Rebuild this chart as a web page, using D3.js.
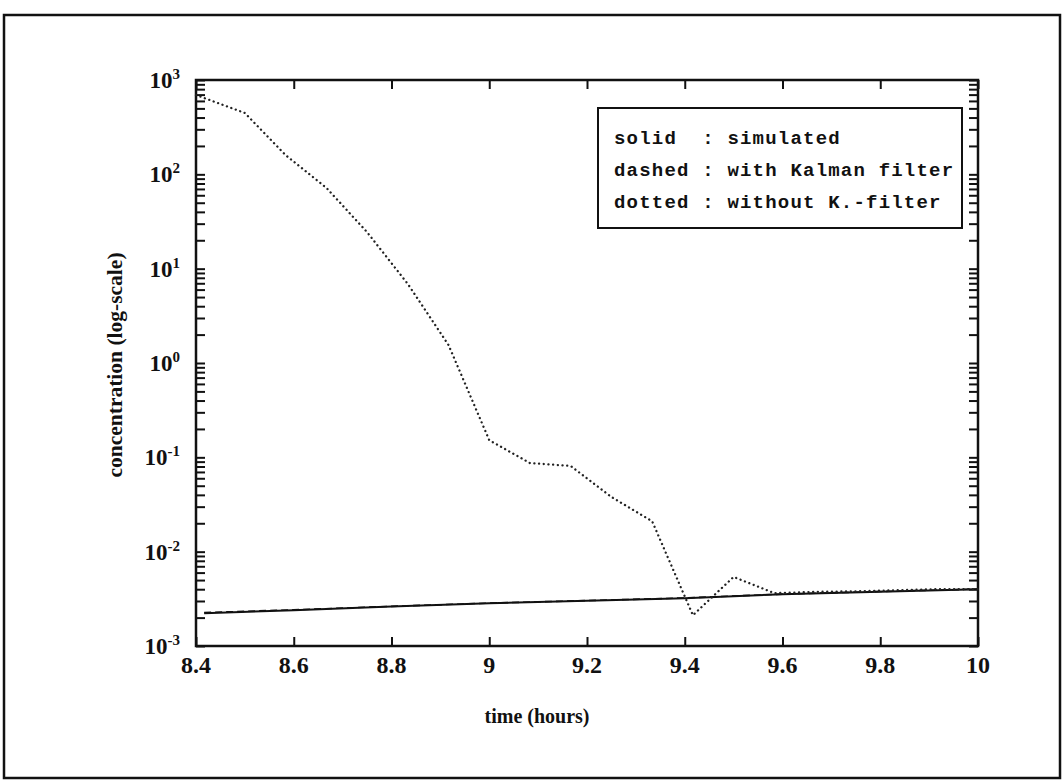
<!DOCTYPE html>
<html>
<head>
<meta charset="utf-8">
<script src="https://cdn.jsdelivr.net/npm/d3@7"></script>
<style>
  body { margin: 0; background: #fff; }
  text { fill: #111; }
</style>
</head>
<body>
<svg id="chart" width="1063" height="783"></svg>
<script>
// simulated concentration (solid)
const simTime = [8.4167, 8.6, 8.8, 9.0, 9.2, 9.4, 9.6, 9.8, 10.0];
const simValue = [0.00223, 0.00240, 0.00262, 0.00284, 0.00302, 0.00321, 0.00354, 0.00377, 0.00400];

// with Kalman filter (dashed) - lies on top of the simulated curve
const kalTime = [8.4167, 8.6, 8.8, 9.0, 9.2, 9.4, 9.6, 9.8, 10.0];
const kalValue = [0.00226, 0.00242, 0.00263, 0.00285, 0.00303, 0.00323, 0.00355, 0.00378, 0.00401];

// without K.-filter (dotted)
const noKalTime = [8.4, 8.5, 8.5833, 8.6667, 8.75, 8.8333, 8.9167, 9.0, 9.0833, 9.1667,
                   9.25, 9.3333, 9.4167, 9.5, 9.5833, 9.6667, 9.75, 9.8333, 9.9167, 10.0];
const noKalValue = [693, 447, 160, 72, 24.4, 6.9, 1.55, 0.152, 0.087, 0.081,
                    0.038, 0.021, 0.00212, 0.0054, 0.00363, 0.00375, 0.0038, 0.0039, 0.0040, 0.0040];

const xTicks = [8.4, 8.6, 8.8, 9.0, 9.2, 9.4, 9.6, 9.8, 10.0];
const xTickLabels = ["8.4", "8.6", "8.8", "9", "9.2", "9.4", "9.6", "9.8", "10"];
const yExponents = [-3, -2, -1, 0, 1, 2, 3];

const legendLines = [
  "solid  : simulated",
  "dashed : with Kalman filter",
  "dotted : without K.-filter"
];

const svg = d3.select("#chart");
const W = 1063, H = 783;
const plot = { left: 196, right: 978, top: 80, bottom: 646 };

// outer frame
svg.append("rect")
  .attr("x", 4).attr("y", 15)
  .attr("width", W - 7).attr("height", H - 20)
  .attr("fill", "none").attr("stroke", "#111").attr("stroke-width", 2.5);

const x = d3.scaleLinear().domain([8.4, 10]).range([plot.left, plot.right]);
const y = d3.scaleLog().domain([1e-3, 1e3]).range([plot.bottom, plot.top]);

const tickLen = 9;
const serif = "'Liberation Serif', 'DejaVu Serif', serif";

// y ticks: major + minor on both sides, pointing inward
const yTickVals = [];
yExponents.forEach(e => {
  for (let m = 1; m <= 9; m++) {
    const v = m * Math.pow(10, e);
    if (v <= 1e3 + 1e-9) yTickVals.push(v);
  }
});

const leftAxis = d3.axisRight(y).tickValues(yTickVals).tickSize(tickLen).tickFormat("");
const rightAxis = d3.axisLeft(y).tickValues(yTickVals).tickSize(tickLen).tickFormat("");
const bottomAxis = d3.axisTop(x).tickValues(xTicks).tickSize(tickLen).tickFormat("");
const topAxis = d3.axisBottom(x).tickValues(xTicks).tickSize(tickLen).tickFormat("");

function styleAxis(g) {
  g.select(".domain").remove();
  g.selectAll(".tick line").attr("stroke", "#111").attr("stroke-width", 2);
}

svg.append("g").attr("transform", `translate(${plot.left},0)`).call(leftAxis).call(styleAxis);
svg.append("g").attr("transform", `translate(${plot.right},0)`).call(rightAxis).call(styleAxis);
svg.append("g").attr("transform", `translate(0,${plot.bottom})`).call(bottomAxis).call(styleAxis);
svg.append("g").attr("transform", `translate(0,${plot.top})`).call(topAxis).call(styleAxis);

// plot frame
svg.append("rect")
  .attr("x", plot.left).attr("y", plot.top)
  .attr("width", plot.right - plot.left).attr("height", plot.bottom - plot.top)
  .attr("fill", "none").attr("stroke", "#111").attr("stroke-width", 2.5);

// x tick labels
svg.append("g").selectAll("text")
  .data(xTicks)
  .join("text")
  .attr("x", d => x(d))
  .attr("y", plot.bottom + 27)
  .attr("text-anchor", "middle")
  .attr("font-family", serif)
  .attr("font-size", 24)
  .attr("font-weight", "bold")
  .text((d, i) => xTickLabels[i]);

// y tick labels 10^e
const yLab = svg.append("g").selectAll("text")
  .data(yExponents)
  .join("text")
  .attr("x", plot.left - 16)
  .attr("y", d => y(Math.pow(10, d)) + 8)
  .attr("text-anchor", "end")
  .attr("font-family", serif)
  .attr("font-size", 23)
  .attr("font-weight", "bold");
yLab.append("tspan").text("10");
yLab.append("tspan")
  .attr("dy", -9)
  .attr("font-size", 15)
  .text(d => d);

// axis titles
svg.append("text")
  .attr("x", (plot.left + plot.right) / 2 - 50)
  .attr("y", 723)
  .attr("text-anchor", "middle")
  .attr("font-family", serif)
  .attr("font-size", 20)
  .attr("font-weight", "bold")
  .text("time (hours)");

svg.append("text")
  .attr("transform", `translate(122,${(plot.top + plot.bottom) / 2 + 2}) rotate(-90)`)
  .attr("text-anchor", "middle")
  .attr("font-family", serif)
  .attr("font-size", 21.5)
  .attr("font-weight", "bold")
  .text("concentration (log-scale)");

// series
const line = d3.line().x(d => x(d[0])).y(d => y(d[1]));

svg.append("path")
  .datum(d3.zip(kalTime, kalValue))
  .attr("d", line)
  .attr("fill", "none").attr("stroke", "#111").attr("stroke-width", 1.6)
  .attr("stroke-dasharray", "7,4");

svg.append("path")
  .datum(d3.zip(simTime, simValue))
  .attr("d", line)
  .attr("fill", "none").attr("stroke", "#111").attr("stroke-width", 2);

svg.append("path")
  .datum(d3.zip(noKalTime, noKalValue))
  .attr("d", line)
  .attr("fill", "none").attr("stroke", "#222").attr("stroke-width", 2.3)
  .attr("stroke-linecap", "round")
  .attr("stroke-dasharray", "0.1,4.6");

// legend
const lg = svg.append("g").attr("transform", "translate(598,108)");
lg.append("rect")
  .attr("width", 364).attr("height", 120)
  .attr("fill", "#fff").attr("stroke", "#111").attr("stroke-width", 2);
lg.selectAll("text")
  .data(legendLines)
  .join("text")
  .attr("x", 16)
  .attr("y", (d, i) => 36 + i * 32)
  .attr("font-family", "'Liberation Mono', 'DejaVu Sans Mono', monospace")
  .attr("font-size", 19)
  .attr("font-weight", "bold")
  .attr("letter-spacing", 1.2)
  .attr("xml:space", "preserve")
  .style("white-space", "pre")
  .text(d => d);
</script>
</body>
</html>
